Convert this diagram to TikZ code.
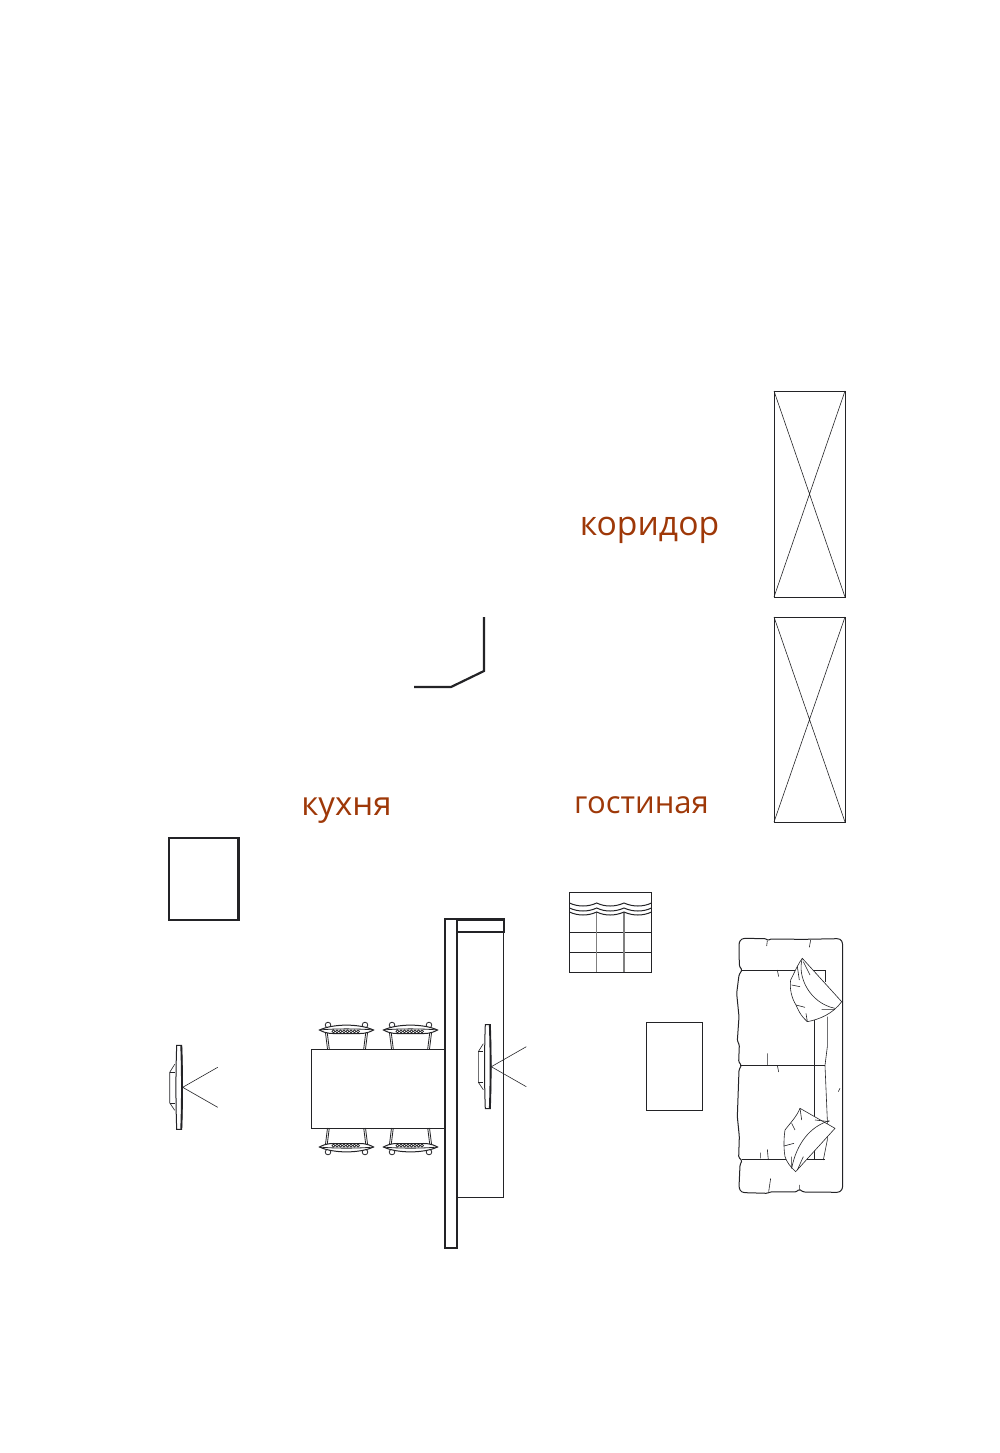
\documentclass[tikz,border=0pt]{standalone}
\usepackage{fontspec}
\setmainfont{Open Sans}
\usepackage{tikz}
\definecolor{labelred}{RGB}{158,56,8}
\definecolor{planink}{RGB}{35,35,38}
\tikzset{
	room label/.style={text=labelred,inner sep=0pt},
	thin line/.style={draw=planink,line width=0.6pt},
	chair line/.style={draw=planink,line width=0.8pt},
	mid line/.style={draw=planink,line width=1pt},
	wall line/.style={draw=planink,line width=2.2pt},
	chair/.pic={
		\draw[chair line] (-19,0) -- (-21,-16) (-17.2,0) -- (-19.2,-16);
		\draw[chair line] (19,0) -- (21,-16) (17.2,0) -- (19.2,-16);
		\draw[chair line,fill=white] (-18.5,-24) circle (2.8);
		\draw[chair line,fill=white] (18.5,-24) circle (2.8);
		\draw[mid line,fill=white] (-27,-19) .. controls (-13,-25.5) and (13,-25.5) .. (27,-19)
			.. controls (20,-15) and (14,-15.5) .. (10,-15.5) -- (-10,-15.5)
			.. controls (-14,-15.5) and (-20,-15) .. cycle;
		\draw[chair line] (-27,-19) .. controls (-13,-20.5) and (13,-20.5) .. (27,-19);
		\foreach \s in {-13,-9.5,...,13}
			\draw[chair line] (\s,-17.6) circle (1.5);
	},
	tv/.pic={
		\draw[mid line,fill=white] (-6,-42) -- (-1,-42) .. controls (0,-15) and (0,15) .. (-1,42) -- (-6,42)
			.. controls (-7,15) and (-7,-15) .. cycle;
		\draw[draw=planink,line width=1.6pt] (-1.6,-42) .. controls (-.6,-15) and (-.6,15) .. (-1.6,42);
		\draw[thin line] (-8,-23) -- (-13,-15) -- (-13,15.5) -- (-8,23);
		\draw[thin line] (-13,-15) -- (-8,-15) (-13,15.5) -- (-8,15.5);
		\draw[thin line] (0,0) -- (35,-20) (0,0) -- (35,20);
	}
}
\begin{document}
\begin{tikzpicture}[x=1pt,y=-1pt]
	\useasboundingbox (0,0) rectangle (1000,1453);

	% labels
	\node[room label,font=\fontsize{33.7}{38}\selectfont] (corridor) at (649.5,530) {коридор};
	\node[room label,font=\fontsize{33}{38}\selectfont] (kitchen) at (346.5,811) {кухня};
	\node[room label,font=\fontsize{31}{36}\selectfont] (lounge) at (641.5,805) {гостиная};

	% wardrobes
	\foreach \ytop/\ybot in {391/597,617/822} {
		\draw[thin line] (774,\ytop) rectangle (845,\ybot);
		\draw[thin line] (774,\ytop) -- (845,\ybot) (845,\ytop) -- (774,\ybot);
	}

	% kitchen corner and cabinet
	\draw[wall line] (484,617) -- (484,671) -- (451,687) -- (414,687);
	\draw[wall line] (169,838) rectangle (238.5,920);

	% wall with the tv behind it
	\draw[thin line] (457,932) rectangle (503.5,1197);
	\draw[wall line] (445,919) rectangle (457,1248);
	\draw[wall line] (457,919.5) rectangle (504,932);

	% table and chairs
	\draw[thin line] (311,1049) rectangle (445,1128);
	\foreach \cx in {346.5,410.5} {
		\pic at (\cx,1049) {chair};
		\pic[yscale=-1] at (\cx,1128) {chair};
	}
	\pic at (182.7,1087.3) {tv};
	\pic at (491.3,1066.7) {tv};

	% shelf
	\draw[mid line] (569.5,892) rectangle (651.5,972);
	\draw[mid line] (569.5,932) -- (651.5,932) (569.5,952) -- (651.5,952);
	\draw[draw=gray,line width=1.1pt] (596.7,912) -- (596.7,972) (624,912) -- (624,972);
	\foreach \wy in {903,908,912}
		\draw[mid line] (569.5,\wy) .. controls (578,\wy+4) and (588,\wy+4) .. (596.7,\wy)
			.. controls (605,\wy+4) and (615,\wy+4) .. (624,\wy)
			.. controls (633,\wy+4) and (643,\wy+4) .. (651.5,\wy);

	% low table
	\draw[thin line] (646,1022) rectangle (702,1110);

	% sofa
	\begin{scope}[shift={(720,920)},x=0.3333pt,y=-0.3333pt]
		\draw[mid line,rounded corners=1.2pt] (72,55) -- (138,56) -- (144,62) -- (150,57) -- (250,58) -- (355,56)
			-- (364,60) -- (368,72) -- (368,802) -- (364,812) -- (355,817) -- (250,816) -- (238,808) -- (228,816)
			-- (150,816) -- (142,820) -- (72,818) -- (62,814) -- (57,802) -- (60,735) -- (66,722) -- (56,712)
			-- (58,650) -- (52,590) -- (57,450) -- (64,436) -- (56,425) -- (58,375) -- (52,362) -- (57,290)
			-- (50,220) -- (57,165) -- (66,150) -- (58,138) -- (57,70) -- (62,59) -- cycle;
		\draw[mid line] (66,150) -- (315,150) -- (315,185);
		\draw[mid line] (64,436) -- (315,436);
		\draw[mid line] (66,720) -- (315,720);
		\draw[mid line] (283,300) -- (283,720);
		\draw[thin line] (322,290) -- (322,380) -- (315,436) -- (322,600) -- (322,660) -- (310,720);
		% creases
		\draw[thin line] (142,62) -- (140,78) (172,150) -- (176,170) (142,400) -- (142,436) (172,436) -- (176,456)
			(142,688) -- (145,720) (122,698) -- (122,715) (152,775) -- (146,815) (238,795) -- (238,810)
			(272,60) -- (268,82) (360,505) -- (355,515);
		% pillows
		\draw[thin line,fill=white] (247,115) -- (365,245) .. controls (340,280) and (300,298) .. (262,305)
			.. controls (240,285) and (235,270) .. (228,255) .. controls (215,235) and (208,205) .. (212,180)
			.. controls (222,160) and (235,130) .. cycle;
		\draw[thin line] (247,115) .. controls (230,170) and (270,250) .. (345,265);
		\draw[thin line] (250,125) -- (270,165) (232,140) -- (238,180) (215,195) -- (240,200) (228,255) -- (255,262)
			(262,305) -- (258,280) (305,268) -- (345,268);
		\draw[thin line,fill=white] (240,565) -- (345,625) -- (227,755) .. controls (210,740) and (200,725) .. (195,710)
			.. controls (190,680) and (192,650) .. (195,630) .. controls (210,610) and (230,590) .. cycle;
		\draw[thin line] (328,602) .. controls (270,620) and (230,670) .. (215,745);
		\draw[thin line] (285,600) -- (328,605) (240,565) -- (245,600) (215,610) -- (225,630) (192,678) -- (222,670)
			(215,710) -- (215,745) (250,710) -- (232,750);
	\end{scope}
\end{tikzpicture}
\end{document}
